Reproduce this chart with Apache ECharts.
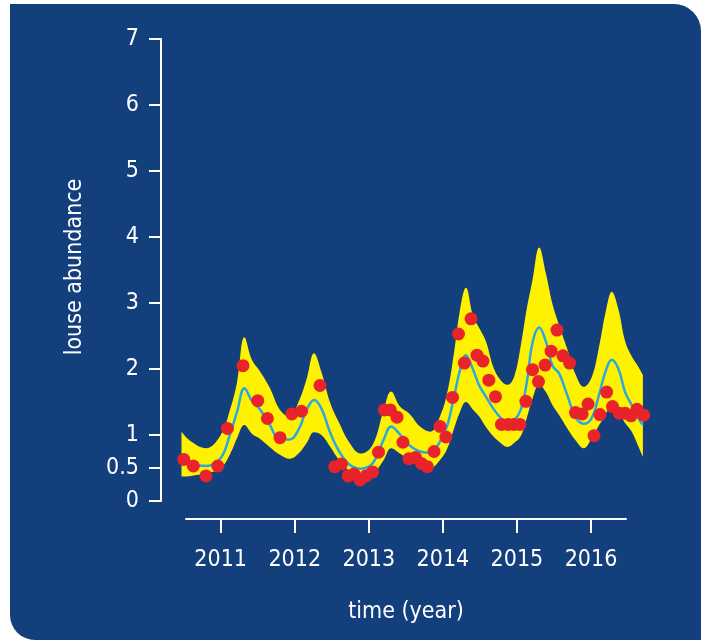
<!DOCTYPE html>
<html>
<head>
<meta charset="utf-8">
<script src="https://cdn.jsdelivr.net/npm/echarts@6/dist/echarts.min.js"></script>
<style>
  html, body { margin: 0; padding: 0; background: #ffffff; }
  #bg { position: absolute; left: 10px; top: 4px; width: 691px; height: 636px;
        background: #143F7D; border-radius: 0 27px 0 25px; }
  #chart { position: absolute; left: 0; top: 0; width: 709px; height: 640px; }
</style>
</head>
<body>
<div id="bg"></div>
<div id="chart"></div>
<script>
// Observed louse abundance (red dots)
const obsYear = [2010.50,2010.63,2010.80,2010.96,2011.09,2011.30,2011.50,2011.63,2011.80,2011.96,
  2012.09,2012.34,2012.54,2012.63,2012.72,2012.80,2012.88,2012.96,2013.05,2013.13,2013.21,2013.29,
  2013.38,2013.46,2013.54,2013.63,2013.71,2013.79,2013.88,2013.96,2014.04,2014.13,2014.21,2014.29,
  2014.38,2014.46,2014.54,2014.62,2014.71,2014.79,2014.88,2014.96,2015.04,2015.12,2015.21,2015.29,
  2015.38,2015.46,2015.54,2015.62,2015.71,2015.79,2015.88,2015.96,2016.04,2016.12,2016.21,2016.29,
  2016.38,2016.46,2016.54,2016.62,2016.71];
const obsValue = [0.63,0.53,0.38,0.53,1.10,2.05,1.52,1.25,0.96,1.32,
  1.36,1.75,0.52,0.56,0.38,0.41,0.32,0.38,0.44,0.74,1.38,1.38,
  1.27,0.89,0.64,0.66,0.57,0.52,0.75,1.13,0.97,1.57,2.53,2.09,
  2.76,2.21,2.12,1.83,1.58,1.16,1.16,1.16,1.16,1.51,1.99,1.81,
  2.06,2.27,2.59,2.20,2.09,1.34,1.32,1.47,0.99,1.31,1.65,1.43,
  1.33,1.33,1.29,1.39,1.30];

// Fitted curve and confidence band
const bandYear = [2010.47,2010.6,2010.8,2011.0,2011.13,2011.22,2011.32,2011.42,2011.52,2011.66,2011.8,2011.93,
  2012.05,2012.16,2012.26,2012.36,2012.48,2012.6,2012.74,2012.89,2013.05,2013.2,2013.3,2013.42,
  2013.55,2013.69,2013.83,2013.96,2014.06,2014.15,2014.23,2014.31,2014.41,2014.49,2014.58,2014.68,
  2014.78,2014.87,2014.96,2015.05,2015.13,2015.21,2015.3,2015.39,2015.48,2015.57,2015.68,2015.79,
  2015.9,2016.01,2016.11,2016.2,2016.28,2016.37,2016.46,2016.55,2016.63,2016.7];
const bandUpper = [1.05,0.90,0.80,1.00,1.40,1.80,2.48,2.14,1.98,1.72,1.38,1.28,
  1.50,1.85,2.24,1.95,1.48,1.18,0.88,0.72,0.85,1.38,1.66,1.43,
  1.32,1.13,1.05,1.28,1.65,2.25,2.89,3.23,2.79,2.62,2.42,2.03,
  1.83,1.76,1.88,2.35,2.90,3.35,3.84,3.45,2.98,2.66,2.30,1.92,
  1.73,1.88,2.35,2.88,3.17,2.90,2.42,2.19,2.05,1.91];
const fitMid = [0.65,0.57,0.53,0.65,1.03,1.35,1.71,1.52,1.40,1.16,0.93,0.93,
  1.08,1.38,1.53,1.40,1.03,0.75,0.55,0.49,0.57,0.93,1.13,1.01,
  0.84,0.75,0.73,0.90,1.15,1.58,1.98,2.21,1.98,1.75,1.58,1.40,
  1.26,1.18,1.22,1.38,1.78,2.40,2.63,2.42,2.05,1.93,1.60,1.27,
  1.17,1.26,1.62,1.98,2.14,2.00,1.65,1.45,1.27,1.15];
const bandLower = [0.37,0.38,0.42,0.50,0.72,0.95,1.15,1.02,0.95,0.82,0.70,0.64,
  0.72,0.88,1.04,1.00,0.82,0.62,0.45,0.34,0.40,0.62,0.80,0.72,
  0.62,0.53,0.50,0.62,0.80,1.10,1.35,1.50,1.38,1.28,1.12,0.98,
  0.88,0.82,0.88,0.98,1.25,1.55,1.76,1.65,1.45,1.30,1.10,0.92,
  0.80,0.95,1.15,1.32,1.48,1.38,1.18,1.05,0.85,0.67];

// Tick labels
const xTicks = [2011, 2012, 2013, 2014, 2015, 2016];
const yTicks = [0, 0.5, 1, 2, 3, 4, 5, 6, 7];

const FONT = '"DejaVu Sans Condensed", "DejaVu Sans", sans-serif';
const FS = 23;
const WHITE = '#ffffff';

// decimal year -> timestamp (linear), used only for the hidden data axis
const YEAR_MS = 365.25 * 86400000;
const t = y => (y - 1970) * YEAR_MS;

const chart = echarts.init(document.getElementById('chart'), null, { renderer: 'canvas' });
const option = {
  backgroundColor: 'transparent',
  animation: false,
  textStyle: { fontFamily: FONT },
  grid: [
    { left: 176.3, width: 474, top: 39, height: 462 },
    { left: 186, width: 440, top: 500, height: 19 }
  ],
  xAxis: [
    { gridIndex: 0, type: 'time', min: t(2010.4), max: t(2016.8), show: false },
    {
      gridIndex: 1, type: 'value', min: 2010.5315, max: 2016.4726,
      axisLine: { show: true, lineStyle: { color: WHITE, width: 2 } },
      axisTick: { show: true, length: 14, customValues: xTicks, lineStyle: { color: WHITE, width: 2 } },
      axisLabel: { customValues: xTicks, color: WHITE, fontSize: FS, fontFamily: FONT, margin: 30,
                   formatter: v => String(v) },
      splitLine: { show: false },
      name: 'time (year)', nameLocation: 'middle', nameGap: 82,
      nameTextStyle: { color: WHITE, fontSize: FS, fontFamily: FONT }
    }
  ],
  yAxis: [
    {
      gridIndex: 0, type: 'value', min: 0, max: 7, offset: 15.3,
      axisLine: { show: true, lineStyle: { color: WHITE, width: 2 } },
      axisTick: { show: true, length: 12, customValues: yTicks, lineStyle: { color: WHITE, width: 2 } },
      axisLabel: { customValues: yTicks, color: WHITE, fontSize: FS, fontFamily: FONT, margin: 22,
                   formatter: v => String(v) },
      splitLine: { show: false },
      name: 'louse abundance', nameLocation: 'middle', nameGap: 74,
      nameTextStyle: { color: WHITE, fontSize: FS, fontFamily: FONT, padding: [0, 0, 0, 6] }
    },
    { gridIndex: 1, type: 'value', show: false }
  ],
  series: [
    {
      type: 'line', xAxisIndex: 0, yAxisIndex: 0, stack: 'band', smooth: 0.4, symbol: 'none', silent: true,
      lineStyle: { opacity: 0 },
      z: 1,
      data: bandYear.map((x, i) => [t(x), bandLower[i]])
    },
    {
      type: 'line', xAxisIndex: 0, yAxisIndex: 0, stack: 'band', smooth: 0.4, symbol: 'none', silent: true,
      lineStyle: { opacity: 0 },
      areaStyle: { color: '#FFF200', opacity: 1 },
      z: 1,
      data: bandYear.map((x, i) => [t(x), +(bandUpper[i] - bandLower[i]).toFixed(3)])
    },
    {
      type: 'line', xAxisIndex: 0, yAxisIndex: 0, smooth: 0.4, symbol: 'none', silent: true,
      lineStyle: { color: '#2AA9E0', width: 2.5 },
      z: 3,
      data: bandYear.map((x, i) => [t(x), fitMid[i]])
    },
    {
      type: 'scatter', xAxisIndex: 0, yAxisIndex: 0, symbolSize: 13,
      itemStyle: { color: '#E8232A', opacity: 1 },
      z: 4,
      data: obsYear.map((x, i) => [t(x), obsValue[i]])
    }
  ]
};
chart.setOption(option);
</script>
</body>
</html>
